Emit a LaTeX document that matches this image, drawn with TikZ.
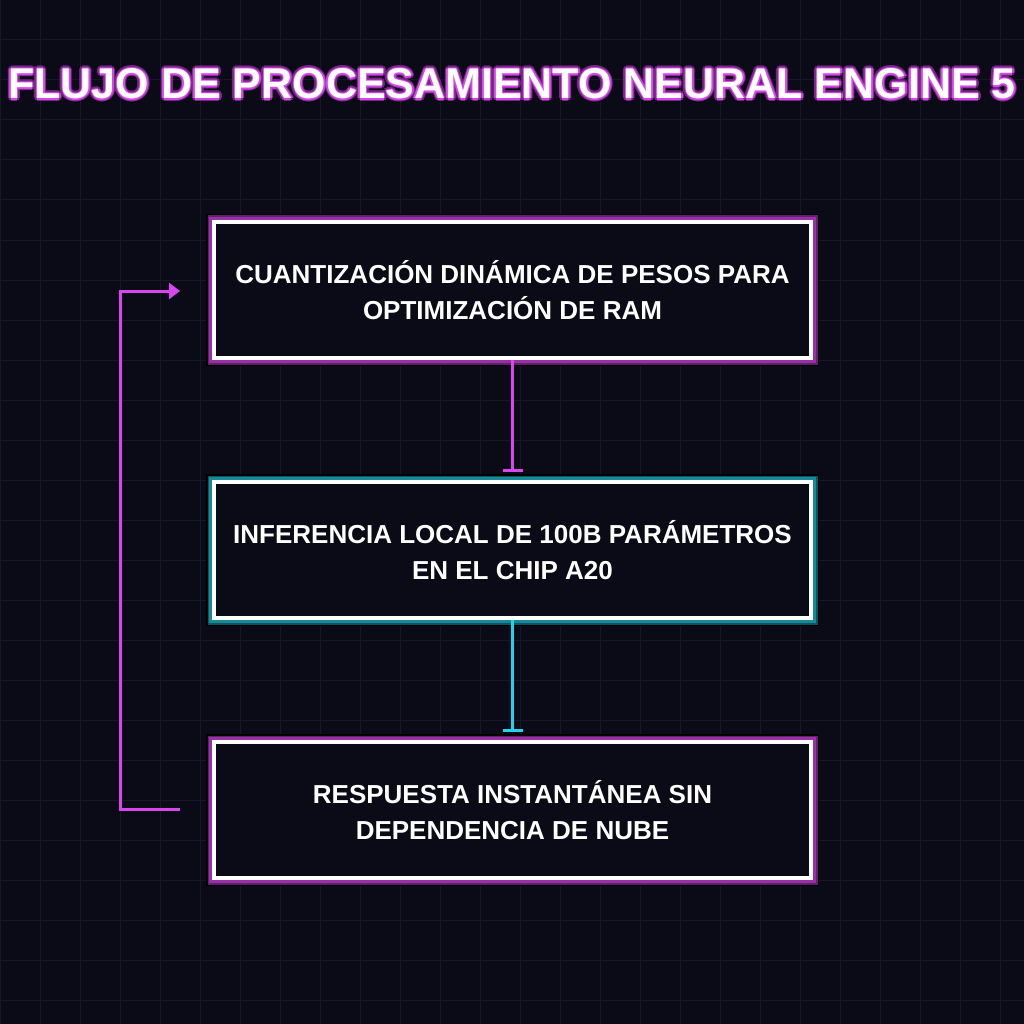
\documentclass[tikz,border=0pt]{standalone}
\usepackage{fontspec}
\setmainfont{Liberation Sans}
\usetikzlibrary{arrows.meta}
\definecolor{bg}{HTML}{0B0B18}
\definecolor{gridc}{HTML}{17172A}
\definecolor{mag}{HTML}{D946EF}
\definecolor{cya}{HTML}{22D3EE}
\begin{document}
\begin{tikzpicture}[x=1pt,y=-1pt,
 txt/.style={text=white,font=\bfseries\fontsize{26}{36}\selectfont,align=center},
 box/.style={draw=white,line width=4pt,minimum width=597pt,minimum height=136pt,fill=bg},
 glowm/.style={preaction={draw=black,line width=16pt},preaction={draw=mag!45!black,line width=13pt},preaction={draw=mag!70!black,line width=10pt}},
 glowc/.style={preaction={draw=black,line width=16pt},preaction={draw=cya!40!black,line width=13pt},preaction={draw=cya!65!black,line width=10pt}},
 conn/.style={line width=3pt,-{Bar[width=20pt,line width=3pt]}},
 ttl/.style={font=\bfseries\fontsize{43}{50}\selectfont}]
\fill[bg] (0,0) rectangle (1024,1024);
\useasboundingbox (0,0) rectangle (1024,1024);
\foreach \i in {0,40,...,1000}{\draw[gridc,line width=1pt] (\i,0)--(\i,1024); \draw[gridc,line width=1pt] (0,\i)--(1024,\i);}
% title
\foreach \dx/\dy in {-3/0,3/0,0/-3,0/3,-2/-2,2/2,-2/2,2/-2}{
 \node[text=mag!55!black,ttl] at (512+\dx,84+\dy) {FLUJO DE PROCESAMIENTO NEURAL ENGINE 5};}
\foreach \dx/\dy in {-1.5/0,1.5/0,0/-1.5,0/1.5}{
 \node[text=mag,ttl] at (512+\dx,84+\dy) {FLUJO DE PROCESAMIENTO NEURAL ENGINE 5};}
\node[text=white,ttl] (title) at (512,84) {FLUJO DE PROCESAMIENTO NEURAL ENGINE 5};
\node[box,glowm,txt] (b1) at (512.5,290) {CUANTIZACIÓN DINÁMICA DE PESOS PARA\\OPTIMIZACIÓN DE RAM};
\node[box,glowc,txt] (b2) at (512.5,550) {INFERENCIA LOCAL DE 100B PARÁMETROS\\EN EL CHIP A20};
\node[box,glowm,txt] (b3) at (512.5,810) {RESPUESTA INSTANTÁNEA SIN\\DEPENDENCIA DE NUBE};
\draw[conn,mag] (b1.south) -- ([yshift=8pt]b2.north);
\draw[conn,cya] (b2.south) -- ([yshift=8pt]b3.north);
\coordinate (fa) at (180,809);
\coordinate (fb) at (180,291);
\draw[mag,line width=3pt,-{Triangle[length=11pt,width=16pt]}] (fa) -- (120,809) -- (120,291) -- (fb);
\end{tikzpicture}
\end{document}
